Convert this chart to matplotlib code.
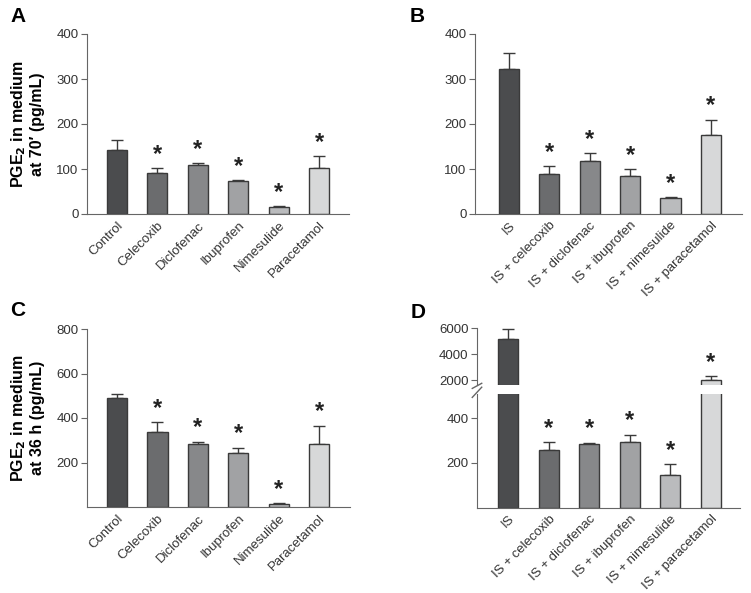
import numpy as np
import matplotlib.pyplot as plt

plt.rcParams['font.family'] = ['Liberation Sans', 'DejaVu Sans']

# data
drugs = ['Control', 'Celecoxib', 'Diclofenac', 'Ibuprofen', 'Nimesulide', 'Paracetamol']
is_drugs = ['IS', 'IS + celecoxib', 'IS + diclofenac', 'IS + ibuprofen',
            'IS + nimesulide', 'IS + paracetamol']

a_mean = [143, 92, 110, 74, 16, 103]
a_err = [22, 10, 3, 1.5, 2.5, 25]
b_mean = [323, 89, 117, 85, 36, 175]
b_err = [35, 17, 18, 15, 2, 35]
c_mean = [491, 336, 285, 242, 13, 284]
c_err = [18, 45, 9, 25, 3, 82]
d_mean = [5190, 260, 284, 295, 144, 1975]
d_err = [700, 35, 8, 33, 53, 330]

stars = [False, True, True, True, True, True]
colors = ['#4b4c4e', '#6b6c6e', '#87888a', '#a1a2a4', '#babbbd', '#d7d8d9']
edge = '#3a3a3a'
axc = '#666666'

W, H = 751, 593
fig = plt.figure(figsize=(W / 100, H / 100), dpi=100)


def px_axes(left, right, top, bottom):
    return fig.add_axes([left / W, 1 - bottom / H, (right - left) / W, (bottom - top) / H])


def style(ax, bottom=True):
    for s in ['top', 'right']:
        ax.spines[s].set_visible(False)
    ax.spines['left'].set_color(axc)
    ax.spines['bottom'].set_color(axc)
    ax.spines['bottom'].set_visible(bottom)
    ax.tick_params(axis='y', direction='out', length=4, color=axc, labelsize=9.5,
                   labelcolor='#333333', pad=2)
    ax.tick_params(axis='x', length=0, labelsize=9.5, labelcolor='#333333', pad=4)


def bars(ax, x, mean, err):
    ax.bar(x, mean, width=0.5, color=colors, edgecolor=edge, linewidth=1, zorder=2)
    ax.errorbar(x, mean, yerr=[np.zeros(len(err)), err], fmt='none', ecolor=edge,
                elinewidth=1, capsize=4.5, capthick=1, zorder=1)


def add_stars(ax, x, mean, err, mask=None):
    for i in range(len(x)):
        if stars[i] and (mask is None or mask[i]):
            ax.annotate('*', (x[i], mean[i] + err[i]), xytext=(0, 1.5),
                        textcoords='offset points', ha='center', va='bottom',
                        fontsize=17, fontweight='bold', color='#222222')


def panel(ax, labels, mean, err, ylim, yticks, xlim):
    x = np.arange(len(labels))
    bars(ax, x, mean, err)
    add_stars(ax, x, mean, err)
    ax.set_ylim(*ylim)
    ax.set_yticks(yticks)
    ax.set_xlim(*xlim)
    ax.set_xticks(x)
    ax.set_xticklabels(labels, rotation=45, ha='right', rotation_mode='anchor')
    style(ax)


axA = px_axes(87, 349, 34, 214)
panel(axA, drugs, a_mean, a_err, (0, 400), [0, 100, 200, 300, 400], (-0.74, 5.74))

axB = px_axes(475, 742, 34, 214)
panel(axB, is_drugs, b_mean, b_err, (0, 400), [0, 100, 200, 300, 400], (-0.84, 5.77))

axC = px_axes(87, 350, 329, 507)
panel(axC, drugs, c_mean, c_err, (0, 800), [200, 400, 600, 800], (-0.74, 5.76))

# panel D with a broken axis
x = np.arange(len(is_drugs))
low_top, high_bot = 510, 1620
axD = px_axes(477, 740, 394, 507.5)
bars(axD, x, d_mean, d_err)
add_stars(axD, x, d_mean, d_err, [m + e < low_top - 60 for m, e in zip(d_mean, d_err)])
axD.set_ylim(0, low_top)
axD.set_yticks([200, 400])
axD.set_xlim(-0.77, 5.72)
axD.set_xticks(x)
axD.set_xticklabels(is_drugs, rotation=45, ha='right', rotation_mode='anchor')
style(axD)

axD2 = px_axes(477, 740, 328, 385)
bars(axD2, x, d_mean, d_err)
add_stars(axD2, x, d_mean, d_err, [m > low_top for m in d_mean])
axD2.set_ylim(high_bot, 6000)
axD2.set_yticks([2000, 4000, 6000])
axD2.set_xlim(-0.77, 5.72)
axD2.set_xticks([])
style(axD2, bottom=False)

# break marks
axD2.plot([-0.018, 0.018], [-0.06, 0.03], transform=axD2.transAxes, color=axc, lw=1,
          clip_on=False)
axD.plot([-0.018, 0.018], [0.97, 1.06], transform=axD.transAxes, color=axc, lw=1,
         clip_on=False)

# y labels
fig.text(27 / W, 1 - 124 / H, 'PGE$_\\mathbf{2}$ in medium\nat 70\u2032 (pg/mL)', rotation=90,
         ha='center', va='center', fontsize=11.5, fontweight='bold', linespacing=1.15)
fig.text(27 / W, 1 - 418 / H, 'PGE$_\\mathbf{2}$ in medium\nat 36 h (pg/mL)', rotation=90,
         ha='center', va='center', fontsize=11.5, fontweight='bold', linespacing=1.15)

# panel letters
for lab, px, py in [('A', 10, 16), ('B', 410, 16), ('C', 10, 310), ('D', 411, 312)]:
    fig.text(px / W, 1 - py / H, lab, fontsize=15, fontweight='bold', ha='left', va='center')

fig.savefig('out.png', dpi=100)
